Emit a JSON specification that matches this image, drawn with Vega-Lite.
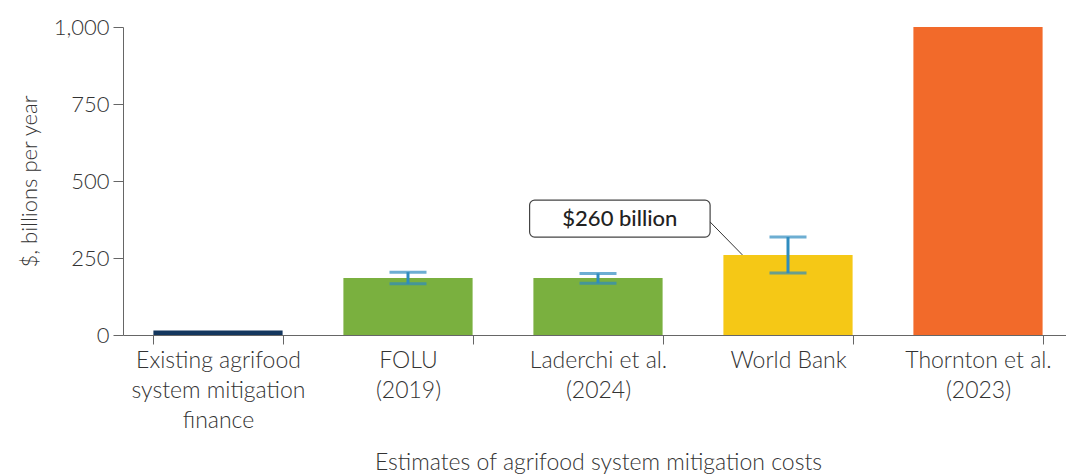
{
  "$schema": "https://vega.github.io/schema/vega-lite/v6.json",
  "width": 950,
  "height": 308,
  "autosize": {"type": "none"},
  "padding": {"left": 123, "top": 27, "right": 0, "bottom": 141},
  "background": "white",
  "config": {
    "view": {"stroke": null},
    "font": "Lato",
    "axis": {"domainColor": "#666666", "tickColor": "#666666", "labelColor": "#333333", "titleColor": "#333333", "labelFont": "Lato", "titleFont": "Lato", "labelFontWeight": 300, "titleFontWeight": 300, "grid": false},
    "axisY": {"titleFontSize": 22, "titlePadding": 12, "labelFontSize": 22, "tickSize": 10, "labelPadding": 4}
  },
  "datasets": {
    "bars": [
      {"source": "Existing agrifood|system mitigation|finance", "value": 15, "low": null, "high": null, "group": "existing"},
      {"source": "FOLU|(2019)", "value": 185, "low": 166, "high": 204, "group": "green"},
      {"source": "Laderchi et al.|(2024)", "value": 185, "low": 168, "high": 200, "group": "green"},
      {"source": "World Bank", "value": 260, "low": 201, "high": 318, "group": "wb"},
      {"source": "Thornton et al.|(2023)", "value": 1000, "low": null, "high": null, "group": "thornton"}
    ],
    "box": [{"x": 2.14, "x2": 3.09, "y": 318, "y2": 438, "label": "$260 billion", "tx": 2.615, "ty": 378}],
    "leader": [{"x": 3.09, "y": 367}, {"x": 3.26, "y": 260}]
  },
  "layer": [
    {
      "data": {"name": "bars"},
      "layer": [
        {
          "mark": {"type": "bar"},
          "encoding": {
            "x": {"field": "source", "type": "nominal", "sort": null, "scale": {"paddingInner": 0.32, "paddingOuter": 0.16},
              "axis": {"title": "Estimates of agrifood system mitigation costs", "titleFontSize": 23, "titlePadding": 19, "labelFontSize": 23, "labelAngle": 0, "labelLineHeight": 30, "labelExpr": "split(datum.label, '|')", "labelPadding": 5, "tickBand": "extent", "tickSize": 9, "labelBaseline": "top"}},
            "y": {"field": "value", "type": "quantitative", "scale": {"domain": [0, 1000]}, "title": "$, billions per year", "axis": {"values": [0, 250, 500, 750, 1000], "format": ",.0f"}},
            "color": {"field": "group", "type": "nominal", "legend": null,
              "scale": {"domain": ["existing", "green", "wb", "thornton"], "range": ["#14375e", "#7ab03f", "#f5c816", "#f26a2a"]}}
          }
        },
        {
          "transform": [{"filter": "datum.low != null"}],
          "mark": {"type": "errorbar", "ticks": {"size": 37, "thickness": 3, "color": "#2f8cbf"}, "rule": {"strokeWidth": 3, "color": "#2f8cbf"}, "color": "#2f8cbf", "thickness": 3},
          "encoding": {
            "x": {"field": "source", "type": "nominal", "sort": null},
            "y": {"field": "low", "type": "quantitative", "title": "$, billions per year", "axis": {"values": [0, 250, 500, 750, 1000], "format": ",.0f"}},
            "y2": {"field": "high"}
          }
        }
      ]
    },
    {
      "data": {"name": "box"},
      "layer": [
        {
          "mark": {"type": "rect", "fill": "white", "stroke": "#444444", "strokeWidth": 1.2, "cornerRadius": 5},
          "encoding": {
            "x": {"field": "x", "type": "quantitative", "scale": {"domain": [0, 5]}, "axis": null},
            "x2": {"field": "x2"},
            "y": {"field": "y", "type": "quantitative", "title": "$, billions per year", "axis": {"values": [0, 250, 500, 750, 1000], "format": ",.0f"}},
            "y2": {"field": "y2"}
          }
        },
        {
          "mark": {"type": "text", "font": "Lato", "fontSize": 22, "fontWeight": 500, "color": "#222222", "baseline": "middle", "align": "center"},
          "encoding": {
            "x": {"field": "tx", "type": "quantitative", "scale": {"domain": [0, 5]}, "axis": null},
            "y": {"field": "ty", "type": "quantitative", "title": "$, billions per year", "axis": {"values": [0, 250, 500, 750, 1000], "format": ",.0f"}},
            "text": {"field": "label"}
          }
        }
      ]
    },
    {
      "data": {"name": "leader"},
      "mark": {"type": "line", "color": "#333333", "strokeWidth": 1},
      "encoding": {
        "x": {"field": "x", "type": "quantitative", "scale": {"domain": [0, 5]}, "axis": null},
        "y": {"field": "y", "type": "quantitative", "title": "$, billions per year", "axis": {"values": [0, 250, 500, 750, 1000], "format": ",.0f"}}
      }
    }
  ],
  "resolve": {"scale": {"x": "independent"}}
}
